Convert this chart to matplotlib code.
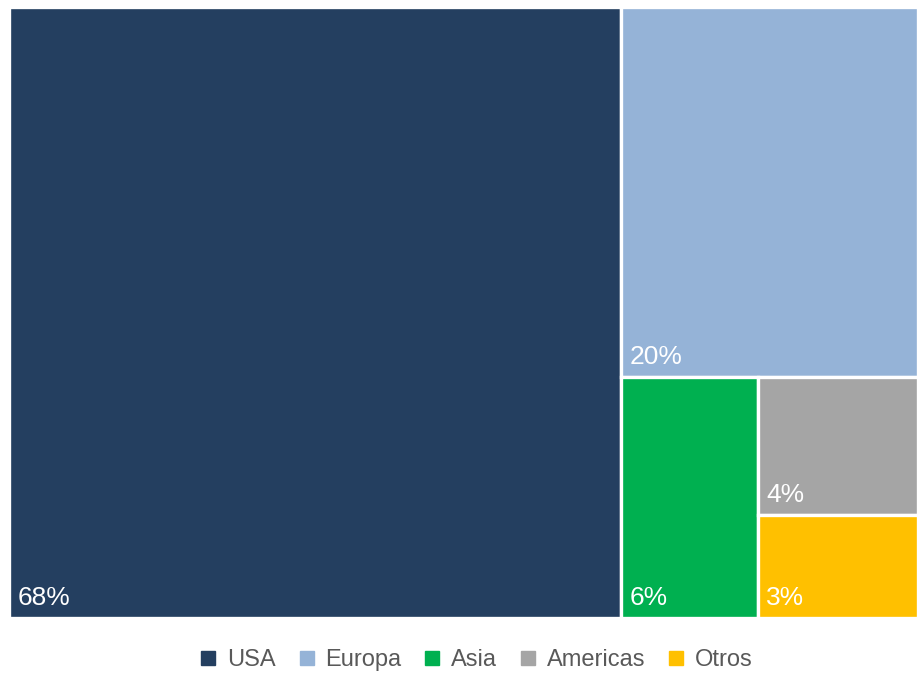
import matplotlib.pyplot as plt
from matplotlib.patches import Rectangle
from matplotlib.lines import Line2D

plt.rcParams['font.family'] = ['Liberation Sans', 'DejaVu Sans']

# Data
regions = ['USA', 'Europa', 'Asia', 'Americas', 'Otros']
shares = [68, 20, 6, 4, 3]
colors = ['#243F60', '#95B3D7', '#00B050', '#A5A5A5', '#FFC000']


def split_layout(values, x, y, w, h):
    # first item vs the rest, cut along the longer side
    if len(values) == 1:
        return [(x, y, w, h)]
    frac = values[0] / sum(values)
    if w >= h:
        first = (x, y, w * frac, h)
        rest = split_layout(values[1:], x + w * frac, y, w * (1 - frac), h)
    else:
        first = (x, y + h * (1 - frac), w, h * frac)
        rest = split_layout(values[1:], x, y, w, h * (1 - frac))
    return [first] + rest


fig = plt.figure(figsize=(9.18, 6.75), dpi=100)
ax = fig.add_axes([9 / 918, 57 / 675, 909 / 918, 611 / 675])
W, H = 909, 611
ax.set_xlim(0, W)
ax.set_ylim(0, H)
ax.axis('off')

rects = split_layout(shares, 0, 0, W, H)
for (x, y, w, h), val, col in zip(rects, shares, colors):
    ax.add_patch(Rectangle((x, y), w, h, facecolor=col, edgecolor='white', linewidth=2.4))
    ax.annotate(f'{val}%', (x, y), xytext=(6, 6), textcoords='offset points',
                color='white', fontsize=19, ha='left', va='bottom')

handles = [Line2D([], [], marker='s', linestyle='none', markersize=10,
                  markerfacecolor=c, markeredgecolor=c) for c in colors]
fig.legend(handles, regions, loc='center', bbox_to_anchor=(0.517, 0.022), ncol=5,
           frameon=False, fontsize=17, labelcolor='#595959', handletextpad=0.3,
           columnspacing=0.8, handlelength=1.0)

plt.savefig('out.png', dpi=100)
